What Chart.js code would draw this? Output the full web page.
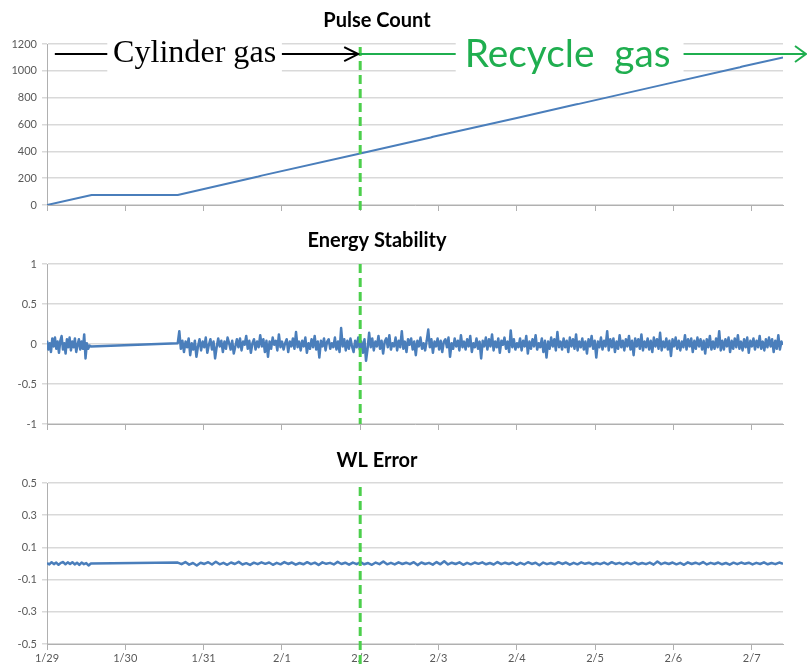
<!DOCTYPE html>
<html lang="en">
<head>
<meta charset="UTF-8" />
<title>Pulse Count / Energy Stability / WL Error</title>
<script src="https://cdn.jsdelivr.net/npm/chart.js"></script>
<style>
    body { margin: 0; background: #fff; }
    canvas { position: absolute; left: 0; }
</style>
</head>
<body>

<canvas id="pulse" width="807" height="220" style="top:0"></canvas>
<canvas id="energy" width="807" height="220" style="top:220px"></canvas>
<canvas id="wl" width="807" height="225" style="top:440px"></canvas>

<script>
// x axis: days since 1/29
const dayLabels = ['1/29', '1/30', '1/31', '2/1', '2/2', '2/3', '2/4', '2/5', '2/6', '2/7'];
const dayTicks = [0, 1, 2, 3, 4, 5, 6, 7, 8, 9];
const dayMax = 9.4;
const switchDay = 4;   // 2/2: cylinder gas -> recycle gas

// Pulse count
const pulseDays = [0, 0.57, 1.67, 2.7, 2.74, 4.0, 4.9, 4.93, 6.0, 6.75, 6.78, 8.0, 8.85, 8.88, 9.4];
const pulseCount = [0, 75, 75, 212, 219, 384, 503, 509, 649, 749, 752, 914, 1027, 1032, 1100];

// logged runs: first run, then gap, then second run
const runStart = [0, 1.67];
const runEnd = [0.56, 9.4];

// Energy stability
const energyRun1 = [0.04, -0.07, 0.01, -0.10, 0.07, -0.03, 0.08, -0.06, 0.03, -0.11, 0.04, 0.10, -0.07, 0.01, -0.12,
    0.06, -0.04, 0.08, -0.08, 0.03, -0.04, 0.07, -0.10, -0.01, 0.06, -0.07, 0.03, -0.06, 0.12, -0.18, 0.01, -0.06, -0.02, -0.03];
const energyRun2 = [
    0.01, 0.16, -0.06, 0.04, -0.10, 0.03, -0.04, 0.07, -0.14, 0.01,
    -0.07, 0.04, -0.16, -0.03, 0.06, -0.08, 0.03, -0.04, 0.08, -0.11,
    -0.01, 0.06, -0.07, 0.03, -0.18, -0.04, 0.07, -0.03, 0.04, -0.10,
    0.03, -0.06, 0.08, 0.01, -0.07, 0.04, -0.12, -0.03, 0.06, -0.04,
    0.07, -0.08, 0.03, -0.01, 0.10, -0.06, 0.04, -0.11, 0.01, 0.06,
    -0.07, 0.03, -0.04, 0.11, -0.03, 0.06, -0.10, 0.04, -0.16, 0.03,
    -0.06, 0.08, -0.01, 0.04, -0.08, 0.12, -0.04, 0.03, -0.07, 0.01,
    0.06, -0.10, 0.03, -0.03, 0.07, -0.06, 0.15, -0.04, 0.03, -0.08,
    0.04, -0.03, 0.08, -0.11, 0.01, -0.06, 0.06, -0.04, 0.10, -0.07,
    0.03, -0.17, 0.04, -0.03, 0.07, -0.08, 0.03, 0.06, -0.06, 0.01,
    -0.04, 0.08, -0.07, 0.03, -0.10, 0.20, -0.03, 0.06, -0.08, 0.04,
    -0.06, 0.07, -0.03, -0.10, 0.04, -0.04, 0.08, -0.07, 0.03, -0.11,
    0.06, -0.21, -0.06, 0.14, -0.04, 0.07, -0.08, 0.03, -0.03, 0.10,
    -0.06, 0.04, -0.12, 0.03, 0.07, -0.04, 0.11, -0.07, 0.01, -0.03,
    0.08, -0.08, 0.04, -0.04, 0.16, -0.06, 0.03, -0.10, 0.06, -0.01,
    0.07, -0.07, 0.03, -0.14, 0.04, -0.03, 0.08, -0.06, 0.01, -0.08,
    0.04, 0.18, -0.04, 0.06, -0.11, 0.03, -0.03, 0.07, -0.07, 0.04,
    -0.10, 0.03, 0.06, -0.04, 0.08, -0.16, 0.01, -0.06, 0.07, -0.03,
    0.04, -0.08, 0.11, -0.04, 0.03, -0.07, 0.06, -0.03, 0.10, -0.10,
    0.01, -0.04, 0.07, -0.06, 0.03, -0.18, 0.04, -0.03, 0.08, -0.07,
    0.06, -0.03, 0.12, -0.08, 0.03, -0.04, 0.07, -0.11, 0.04, -0.01,
    0.08, -0.06, 0.03, -0.10, 0.17, -0.04, 0.06, -0.07, 0.01, -0.04,
    0.07, -0.08, 0.04, -0.03, 0.10, -0.12, 0.03, -0.06, 0.06, -0.03,
    0.11, -0.07, 0.01, -0.04, 0.07, -0.10, 0.04, -0.17, 0.03, -0.06,
    0.08, -0.03, 0.06, -0.08, 0.15, -0.04, 0.03, -0.07, 0.07, -0.04,
    0.04, -0.10, 0.08, -0.03, 0.06, -0.06, 0.12, -0.08, 0.03, -0.04,
    0.07, -0.07, 0.03, -0.12, 0.06, -0.03, 0.10, -0.06, 0.04, -0.17,
    0.03, -0.04, 0.08, -0.07, 0.04, -0.03, 0.16, -0.08, 0.06, -0.04,
    0.07, -0.10, 0.03, -0.06, 0.11, -0.04, 0.04, -0.08, 0.06, -0.03,
    0.10, -0.07, 0.04, -0.14, 0.07, -0.03, 0.06, -0.06, 0.12, -0.08,
    0.03, -0.04, 0.07, -0.07, 0.04, -0.10, 0.08, -0.03, 0.06, -0.06,
    0.14, -0.08, 0.03, -0.04, 0.07, -0.07, 0.04, -0.15, 0.06, -0.03,
    0.08, -0.06, 0.04, -0.08, 0.03, -0.04, 0.11, -0.07, 0.06, -0.03,
    0.07, -0.10, 0.04, -0.06, 0.08, -0.03, 0.06, -0.07, 0.04, -0.12,
    0.06, -0.04, 0.10, -0.07, 0.03, -0.06, 0.07, -0.04, 0.16, -0.08,
    0.04, -0.07, 0.06, -0.03, 0.08, -0.10, 0.04, -0.06, 0.07, -0.04,
    0.11, -0.06, 0.03, -0.08, 0.06, -0.04, 0.08, -0.11, 0.04, -0.03,
    0.07, -0.07, 0.04, -0.04, 0.10, -0.06, 0.03, -0.08, 0.06, -0.04,
    0.08, -0.03, 0.06, -0.10, 0.04, -0.06, 0.11, -0.07, 0.03, -0.01
];

// WL error
const wlRun1 = [0.002, -0.006, 0.008, -0.004, 0.006, -0.008, 0.004, 0.009, -0.005, 0.007,
    -0.003, 0.008, -0.006, 0.005, -0.009, 0.006, -0.004, 0.003, -0.012, 0.000];
const wlRun2 = [
    0.006, -0.004, 0.009, -0.007, 0.003, -0.012, 0.005, -0.003, 0.008, -0.006,
    0.011, -0.005, 0.004, -0.008, 0.006, -0.003, 0.010, -0.006, 0.002, -0.009,
    0.005, -0.004, 0.007, -0.002, 0.006, -0.008, 0.004, -0.005, 0.009, -0.003,
    0.006, -0.007, 0.003, -0.005, 0.008, -0.004, 0.005, -0.009, 0.007, -0.002,
    0.004, -0.006, 0.010, -0.003, 0.005, -0.007, 0.006, -0.004, 0.008, -0.005,
    0.003, -0.008, 0.006, -0.004, 0.012, -0.005, 0.004, -0.006, 0.007, -0.003,
    0.005, -0.004, 0.008, -0.010, 0.006, -0.003, 0.004, -0.007, 0.009, -0.005,
    0.014, -0.006, 0.005, -0.003, 0.007, -0.008, 0.004, -0.005, 0.006, -0.002,
    0.007, -0.005, 0.003, -0.006, 0.009, -0.004, 0.005, -0.003, 0.006, -0.008,
    0.004, -0.006, 0.008, -0.003, 0.005, -0.011, 0.006, -0.004, 0.003, -0.005,
    0.008, -0.003, 0.006, -0.007, 0.004, -0.005, 0.007, -0.002, 0.005, -0.006,
    0.003, -0.004, 0.006, -0.005, 0.008, -0.003, 0.004, -0.006, 0.005, -0.004,
    0.007, -0.005, 0.003, -0.004, 0.006, -0.007, 0.012, -0.004, 0.005, -0.003,
    0.006, -0.005, 0.004, -0.008, 0.007, -0.003, 0.005, -0.004, 0.009, -0.006,
    0.004, -0.003, 0.006, -0.005, 0.003, -0.007, 0.005, -0.004, 0.006, -0.002,
    0.005, -0.006, 0.004, -0.003, 0.007, -0.005, 0.003, -0.004, 0.006, -0.002
];

const blue = '#4a7ebb';
const dashGreen = '#4ccf4c';
const textGreen = '#1fae4f';
const gridGray = '#d9d9d9';
const axisGray = '#b0b0b0';
const labelGray = '#595959';
const titleX = 377;

// spread a run of samples evenly over its time span
function runPoints(run, values) {
    const n = values.length;
    return values.map((v, i) => ({
        x: runStart[run] + (runEnd[run] - runStart[run]) * i / (n - 1),
        y: v
    }));
}

// title, dashed switch marker and (on the pulse chart) gas annotations
const overlay = {
    id: 'overlay',
    afterDatasetsDraw(chart, args, opts) {
        const ctx = chart.ctx;
        const area = chart.chartArea;
        const xs = chart.scales.x.getPixelForValue(switchDay);
        ctx.save();
        ctx.strokeStyle = dashGreen;
        ctx.lineWidth = 3;
        ctx.setLineDash([9, 5]);
        ctx.beginPath();
        ctx.moveTo(xs, area.top + opts.dashTop);
        ctx.lineTo(xs, opts.dashBottom == null ? chart.height : area.bottom + opts.dashBottom);
        ctx.stroke();
        ctx.restore();
    },
    afterDraw(chart, args, opts) {
        const ctx = chart.ctx;
        ctx.save();
        ctx.fillStyle = '#000';
        ctx.font = 'bold 20px Lato';
        ctx.textAlign = 'center';
        ctx.textBaseline = 'middle';
        ctx.fillText(opts.title, titleX, 21);
        ctx.restore();
        if (opts.gas) drawGas(chart);
    }
};

function fitFont(ctx, text, family, width) {
    ctx.font = '40px ' + family;
    const s = 40 * width / ctx.measureText(text).width;
    return s.toFixed(1) + 'px ' + family;
}

function drawGas(chart) {
    const ctx = chart.ctx;
    const x = chart.scales.x, y = chart.scales.y;
    const ly = y.getPixelForValue(1125);
    const xs = x.getPixelForValue(switchDay);
    ctx.save();
    ctx.lineWidth = 2;

    // Cylinder gas (black)
    let b0 = x.getPixelForValue(0.77), b1 = x.getPixelForValue(3.0);
    ctx.fillStyle = '#fff';
    ctx.fillRect(b0, ly - 20, b1 - b0, 42);
    ctx.strokeStyle = '#000';
    ctx.beginPath();
    ctx.moveTo(x.getPixelForValue(0.1), ly); ctx.lineTo(b0, ly);
    ctx.moveTo(b1, ly); ctx.lineTo(xs - 2, ly);
    ctx.moveTo(xs - 16, ly - 7); ctx.lineTo(xs - 2, ly); ctx.lineTo(xs - 16, ly + 7);
    ctx.stroke();
    ctx.fillStyle = '#000';
    ctx.font = fitFont(ctx, 'Cylinder gas', '"Liberation Serif"', 163);
    ctx.textAlign = 'center';
    ctx.textBaseline = 'alphabetic';
    ctx.fillText('Cylinder gas', (b0 + b1) / 2, ly + 8);

    // Recycle gas (green)
    b0 = x.getPixelForValue(5.22); b1 = x.getPixelForValue(8.13);
    ctx.fillStyle = '#fff';
    ctx.fillRect(b0, ly - 20, b1 - b0, 42);
    ctx.strokeStyle = textGreen;
    ctx.beginPath();
    ctx.moveTo(xs, ly); ctx.lineTo(b0, ly);
    ctx.moveTo(b1, ly); ctx.lineTo(chart.width - 1, ly);
    ctx.moveTo(chart.width - 12, ly - 8); ctx.lineTo(chart.width - 1, ly); ctx.lineTo(chart.width - 12, ly + 8);
    ctx.stroke();
    ctx.fillStyle = textGreen;
    ctx.font = fitFont(ctx, 'Recycle  gas', 'Lato', 206);
    ctx.fillText('Recycle  gas', (b0 + b1) / 2 - 2, ly + 13);
    ctx.restore();
}

function makeChart(id, points, yMin, yMax, yStep, opts) {
    return new Chart(document.getElementById(id), {
        type: 'line',
        data: {
            datasets: [{
                data: points,
                borderColor: blue,
                borderWidth: opts.lineWidth,
                borderJoinStyle: 'round',
                pointRadius: 0,
                tension: 0,
                fill: false
            }]
        },
        options: {
            responsive: false,
            animation: false,
            layout: { padding: { top: opts.top, right: 24, bottom: opts.bottom, left: 0 } },
            plugins: {
                legend: { display: false },
                tooltip: { enabled: false },
                overlay: opts.overlay
            },
            scales: {
                x: {
                    type: 'linear',
                    min: 0,
                    max: dayMax,
                    afterBuildTicks: s => { s.ticks = dayTicks.map(v => ({ value: v })); },
                    afterFit: s => { s.height = opts.xHeight; },
                    grid: { drawOnChartArea: false, drawTicks: true, tickLength: 6, color: axisGray },
                    border: { color: axisGray },
                    ticks: {
                        display: opts.dates,
                        autoSkip: false,
                        maxRotation: 0,
                        padding: 2,
                        color: labelGray,
                        font: { family: 'Lato', size: 11 },
                        callback: v => dayLabels[v]
                    }
                },
                y: {
                    min: yMin,
                    max: yMax,
                    afterFit: s => { s.width = 47; },
                    grid: { color: gridGray, lineWidth: 1.5, tickLength: 5 },
                    border: { color: axisGray },
                    ticks: {
                        stepSize: yStep,
                        padding: 5,
                        color: labelGray,
                        font: { family: 'Lato', size: 11 },
                        callback: v => String(Math.round(v * 10) / 10)
                    }
                }
            }
        },
        plugins: [overlay]
    });
}

makeChart('pulse', pulseDays.map((d, i) => ({ x: d, y: pulseCount[i] })), 0, 1200, 200, {
    top: 44, bottom: 5, xHeight: 10, dates: false, lineWidth: 2,
    overlay: { title: 'Pulse Count', dashTop: 3, dashBottom: 9, gas: true }
});

makeChart('energy', runPoints(0, energyRun1).concat(runPoints(1, energyRun2)), -1, 1, 0.5, {
    top: 44, bottom: 6, xHeight: 10, dates: false, lineWidth: 2.5,
    overlay: { title: 'Energy Stability', dashTop: 0, dashBottom: 0 }
});

makeChart('wl', runPoints(0, wlRun1).concat(runPoints(1, wlRun2)), -0.5, 0.5, 0.2, {
    top: 43, bottom: 0, xHeight: 21, dates: true, lineWidth: 2.5,
    overlay: { title: 'WL Error', dashTop: 4, dashBottom: null }
});
</script>

</body>
</html>
